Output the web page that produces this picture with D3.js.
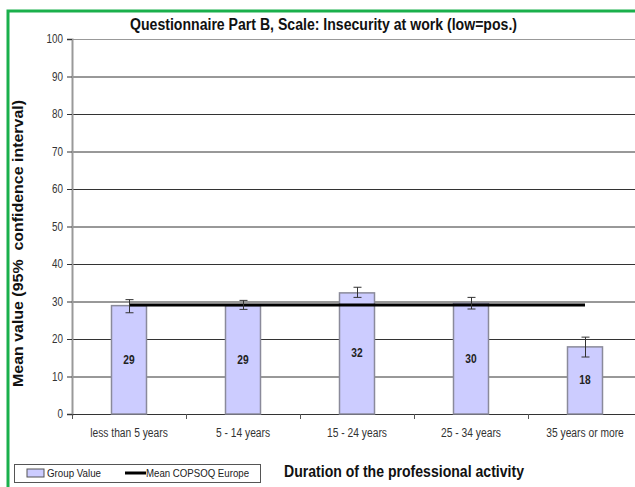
<!DOCTYPE html>
<html><head><meta charset="utf-8">
<script src="https://cdn.jsdelivr.net/npm/d3@7"></script>
<style>body{margin:0;background:#fff}svg{display:block}</style>
</head><body>
<script>
const categories = ["less than 5 years","5 - 14 years","15 - 24 years","25 - 34 years","35 years or more"];
const values = [29, 29, 32, 30, 18];
const barHeights = [28.9, 28.9, 32.3, 29.6, 17.9];
const ciLow = [27.0, 27.9, 31.1, 28.0, 15.2];
const ciHigh = [30.5, 30.3, 33.8, 31.1, 20.5];
const meanEurope = 29.1;
const yTicks = [0,10,20,30,40,50,60,70,80,90,100];

const W = 635, H = 487;
const m = {left:72, top:39, right:642, bottom:414};
const svg = d3.select("body").append("svg").attr("width",W).attr("height",H);
const sans = "'Liberation Sans', Arial, sans-serif";

// condense text horizontally to mimic a narrow face
function narrowify(sel, f){
  sel.each(function(){
    const L = this.getComputedTextLength();
    d3.select(this).attr("textLength", L*f).attr("lengthAdjust","spacingAndGlyphs");
  });
}

// green frame
svg.append("rect").attr("x",8).attr("y",11).attr("width",W).attr("height",H)
  .attr("fill","none").attr("stroke","#1ab04c").attr("stroke-width",3);

const x = d3.scaleBand().domain(categories).range([m.left,m.right]).paddingInner(0).paddingOuter(0);
const y = d3.scaleLinear().domain([0,100]).range([m.bottom,m.top]);

// gridlines
svg.append("g").selectAll("line").data(yTicks.filter(d=>d>0)).join("line")
  .attr("x1",m.left).attr("x2",m.right)
  .attr("y1",d=>y(d)+0.5).attr("y2",d=>y(d)+0.5)
  .attr("stroke",d=>d===100?"#999":"#333").attr("stroke-width",1);

// y axis
const ya = svg.append("g").attr("transform",`translate(${m.left},0)`)
  .call(d3.axisLeft(y).tickValues(yTicks).tickSize(5).tickPadding(4));
ya.select(".domain").attr("stroke","#999").attr("stroke-width",2);
ya.selectAll(".tick line").attr("stroke","#333");
ya.selectAll(".tick text").attr("font-family",sans).attr("font-size",12).attr("fill","#333");
narrowify(ya.selectAll(".tick text"), 0.82);

// x axis
const xa = svg.append("g").attr("transform",`translate(0,${m.bottom})`)
  .call(d3.axisBottom(x).tickSize(0).tickPadding(14));
xa.select(".domain").remove();
svg.append("line").attr("x1",m.left).attr("x2",m.right).attr("y1",m.bottom+0.5).attr("y2",m.bottom+0.5).attr("stroke","#333");
svg.append("g").selectAll("line").data(d3.range(categories.length+1)).join("line")
  .attr("x1",i=>m.left+i*x.bandwidth()+0.5).attr("x2",i=>m.left+i*x.bandwidth()+0.5)
  .attr("y1",m.bottom).attr("y2",m.bottom+5).attr("stroke","#555");
xa.selectAll(".tick text").attr("font-family",sans).attr("font-size",12).attr("fill","#333");
narrowify(xa.selectAll(".tick text"), 0.855);

// bars
const bw = 35;
svg.append("g").selectAll("rect").data(categories).join("rect")
  .attr("x",d=>x(d)+x.bandwidth()/2-bw/2).attr("width",bw)
  .attr("y",(d,i)=>y(barHeights[i])).attr("height",(d,i)=>y(0)-y(barHeights[i]))
  .attr("fill","#ccccff").attr("stroke","#8a8a9a").attr("stroke-width",1.5);

// value labels
const vl = svg.append("g").selectAll("text").data(categories).join("text")
  .attr("x",d=>x(d)+x.bandwidth()/2).attr("y",(d,i)=>y(barHeights[i]/2)+4)
  .attr("text-anchor","middle").attr("font-family",sans).attr("font-weight","bold")
  .attr("font-size",12).attr("fill","#222").text((d,i)=>values[i]);
narrowify(vl, 0.85);

// mean line
svg.append("line").attr("x1",x(categories[0])+x.bandwidth()/2).attr("x2",x(categories[4])+x.bandwidth()/2)
  .attr("y1",y(meanEurope)).attr("y2",y(meanEurope)).attr("stroke","#000").attr("stroke-width",3);

// error bars
const eb = svg.append("g").attr("stroke","#333").attr("stroke-width",1);
categories.forEach((c,i)=>{
  const cx = x(c)+x.bandwidth()/2+0.5;
  eb.append("line").attr("x1",cx).attr("x2",cx).attr("y1",y(ciHigh[i])).attr("y2",y(ciLow[i]));
  eb.append("line").attr("x1",cx-4).attr("x2",cx+4).attr("y1",y(ciHigh[i])).attr("y2",y(ciHigh[i]));
  eb.append("line").attr("x1",cx-4).attr("x2",cx+4).attr("y1",y(ciLow[i])).attr("y2",y(ciLow[i]));
});

// title
svg.append("text").attr("x",323.5).attr("y",30).attr("text-anchor","middle")
  .attr("font-family",sans).attr("font-weight","bold").attr("font-size",16).attr("fill","#111")
  .attr("textLength",387).attr("lengthAdjust","spacingAndGlyphs")
  .text("Questionnaire Part B, Scale: Insecurity at work (low=pos.)");

// y title
svg.append("text").attr("transform","translate(23,243.5) rotate(-90)").attr("text-anchor","middle")
  .attr("font-family",sans).attr("font-weight","bold").attr("font-size",14).attr("fill","#111")
  .attr("textLength",287).attr("lengthAdjust","spacingAndGlyphs")
  .style("white-space","pre")
  .text("Mean value (95%  confidence interval)");

// x title
svg.append("text").attr("x",404).attr("y",477).attr("text-anchor","middle")
  .attr("font-family",sans).attr("font-weight","bold").attr("font-size",16.5).attr("fill","#111")
  .attr("textLength",240).attr("lengthAdjust","spacingAndGlyphs")
  .text("Duration of the professional activity");

// legend
const lg = svg.append("g");
lg.append("rect").attr("x",14.5).attr("y",464.5).attr("width",246).attr("height",18)
  .attr("fill","#fff").attr("stroke","#555").attr("stroke-width",1);
lg.append("rect").attr("x",27).attr("y",469).attr("width",17).attr("height",8)
  .attr("fill","#ccccff").attr("stroke","#555").attr("stroke-width",1);
lg.append("text").attr("x",47).attr("y",477).attr("font-family",sans).attr("font-size",11).attr("fill","#222")
  .attr("textLength",54).attr("lengthAdjust","spacingAndGlyphs").text("Group Value");
lg.append("line").attr("x1",125).attr("x2",146).attr("y1",473).attr("y2",473).attr("stroke","#000").attr("stroke-width",3);
lg.append("text").attr("x",146).attr("y",477).attr("font-family",sans).attr("font-size",11).attr("fill","#222")
  .attr("textLength",103).attr("lengthAdjust","spacingAndGlyphs").text("Mean COPSOQ Europe");
</script>
</body></html>
